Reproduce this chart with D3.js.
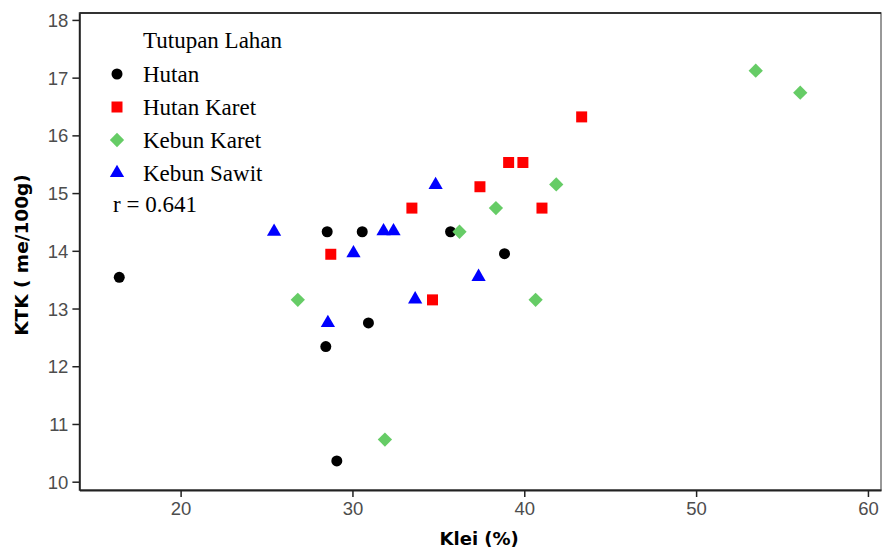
<!DOCTYPE html>
<html>
<head>
<meta charset="utf-8">
<script src="https://cdn.jsdelivr.net/npm/d3@7"></script>
<style>
	body { margin: 0; background: #fff; }
	svg { display: block; }
</style>
</head>
<body>
<svg id="chart"></svg>
<script>
// series values: [klei %, KTK]
const hutan = [[16.43, 13.54], [28.53, 14.33], [30.57, 14.33], [35.71, 14.33], [38.85, 13.95], [30.93, 12.75], [28.45, 12.34], [29.09, 10.36]];
const hutanKaret = [[39.09, 15.53], [39.92, 15.53], [37.42, 15.11], [33.46, 14.74], [41.03, 14.74], [28.74, 13.94], [34.66, 13.15], [43.34, 16.32]];
const kebunKaret = [[53.47, 17.12], [56.06, 16.74], [41.86, 15.15], [38.35, 14.74], [36.23, 14.33], [26.82, 13.15], [40.66, 13.15], [31.89, 10.73]];
const kebunSawit = [[34.84, 15.14], [31.81, 14.34], [32.39, 14.34], [30.06, 13.96], [37.34, 13.55], [33.65, 13.16], [28.57, 12.75], [25.44, 14.33]];

const seriesNames = ["Hutan", "Hutan Karet", "Kebun Karet", "Kebun Sawit"];
const seriesData = [hutan, hutanKaret, kebunKaret, kebunSawit];
const seriesColours = ["#000000", "#ff0000", "#66cc66", "#0000ff"];
const xTicks = [20, 30, 40, 50, 60];
const yTicks = [10, 11, 12, 13, 14, 15, 16, 17, 18];
const legendTitle = "Tutupan Lahan";
const corrText = "r = 0.641";

let W = 882, H = 554;
let margin = { top: 13, right: 1, bottom: 64, left: 79.4 };
let width = W - margin.left - margin.right;
let height = H - margin.top - margin.bottom;

let scaleX = d3.scaleLinear().domain([14.11, 60.76]).range([0, width]);
let scaleY = d3.scaleLinear().domain([9.856, 18.12]).range([height, 0]);

// marker shapes: circle, square, diamond (rotated square), triangle
let shapes = [
	{ type: d3.symbolCircle, size: 95, rot: 0 },
	{ type: d3.symbolSquare, size: 121, rot: 0 },
	{ type: d3.symbolSquare, size: 102, rot: 45 },
	{ type: d3.symbolTriangle, size: 88, rot: 0 }
];

let svg = d3.select("#chart").attr("width", W).attr("height", H);
let g = svg.append("g").attr("transform", "translate(" + margin.left + "," + margin.top + ")");

// frame
g.append("rect")
	.attr("width", width).attr("height", height)
	.attr("fill", "none").attr("stroke", "#777").attr("stroke-width", 1.5);
g.append("line").attr("x1", 0).attr("x2", width).attr("y1", 0).attr("y2", 0)
	.attr("stroke", "#111").attr("stroke-width", 1.6);

let tickFont = "'Liberation Sans', Arial, sans-serif";

let xAxis = g.append("g")
	.attr("transform", "translate(0," + height + ")")
	.call(d3.axisBottom(scaleX).tickValues(xTicks).tickSize(7).tickPadding(5).tickSizeOuter(0));
let yAxis = g.append("g")
	.call(d3.axisLeft(scaleY).tickValues(yTicks).tickSize(7).tickPadding(4).tickSizeOuter(0));

[xAxis, yAxis].forEach(a => {
	a.select(".domain").attr("stroke", "#222").attr("stroke-width", 1.8);
	a.selectAll(".tick line").attr("stroke", "#222").attr("stroke-width", 1.5);
	a.selectAll(".tick text")
		.attr("fill", "#4d4d4d")
		.style("font-family", tickFont)
		.style("font-size", "18.5px");
});
yAxis.selectAll(".tick text").attr("dy", "0.35em");

// points
seriesData.forEach((data, i) => {
	let sh = shapes[i];
	g.append("g").selectAll("path")
		.data(data)
		.join("path")
		.attr("d", d3.symbol().type(sh.type).size(sh.size))
		.attr("transform", d => "translate(" + scaleX(d[0]) + "," + scaleY(d[1]) + ") rotate(" + sh.rot + ")")
		.attr("fill", seriesColours[i]);
});

// axis titles
svg.append("text")
	.attr("x", margin.left + width / 2 - 1)
	.attr("y", 545)
	.attr("text-anchor", "middle")
	.style("font-family", "'DejaVu Sans', sans-serif")
	.style("font-weight", "bold")
	.style("font-size", "18px")
	.text("Klei (%)");

svg.append("text")
	.attr("transform", "translate(28,255) rotate(-90)")
	.attr("text-anchor", "middle")
	.style("font-family", "'DejaVu Sans', sans-serif")
	.style("font-weight", "bold")
	.style("font-size", "18.5px")
	.text("KTK ( me/100g)");

// legend
let serif = "'Liberation Serif', 'Times New Roman', serif";
let legend = svg.append("g");
legend.append("text")
	.attr("x", 143).attr("y", 48)
	.style("font-family", serif).style("font-size", "23px")
	.text(legendTitle);

seriesNames.forEach((name, i) => {
	let sh = shapes[i];
	let cy = 74 + i * 33;
	legend.append("path")
		.attr("d", d3.symbol().type(sh.type).size(sh.size))
		.attr("transform", "translate(117," + cy + ") rotate(" + sh.rot + ")")
		.attr("fill", seriesColours[i]);
	legend.append("text")
		.attr("x", 143).attr("y", cy + 8)
		.style("font-family", serif).style("font-size", "23px")
		.text(name);
});

legend.append("text")
	.attr("x", 113).attr("y", 212)
	.style("font-family", serif).style("font-size", "23px")
	.text(corrText);
</script>
</body>
</html>
